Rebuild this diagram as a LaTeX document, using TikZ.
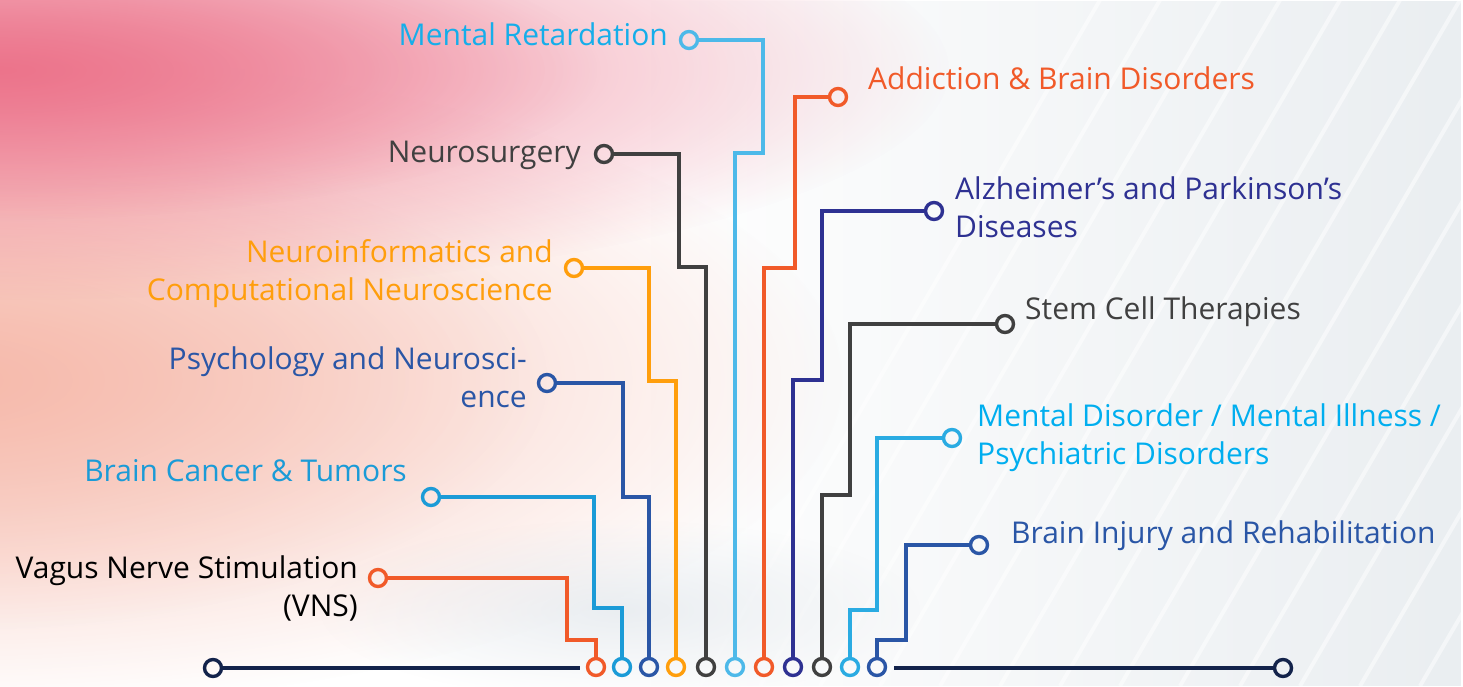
\documentclass[tikz,border=0pt]{standalone}
\usepackage{fontspec}
\setmainfont{Open Sans}
\usetikzlibrary{fadings}
\definecolor{navy}{HTML}{13234B}
\definecolor{cOr}{HTML}{F15A29}
\definecolor{cCa}{HTML}{1B9BD7}
\definecolor{cBl}{HTML}{2A56A6}
\definecolor{cAm}{HTML}{FF9E0C}
\definecolor{cGr}{HTML}{404040}
\definecolor{cLb}{HTML}{4DB9E9}
\definecolor{cLbT}{HTML}{15AEEA}
\definecolor{cIn}{HTML}{2E3192}
\definecolor{cCy}{HTML}{2AABE2}
\definecolor{cCyT}{HTML}{00AEEF}
\definecolor{pinkA}{HTML}{EC7088}
\definecolor{pinkB}{HTML}{F6B7A8}
\definecolor{greyB}{HTML}{DCE2E8}
\tikzfading[name=radfade, inner color=transparent!0, outer color=transparent!100]
\tikzfading[name=fadeL, left color=transparent!100, right color=transparent!0]
\tikzfading[name=fadeR, left color=transparent!0, right color=transparent!100]
\begin{document}
\begin{tikzpicture}[x=1pt,y=-1pt,
  dot/.style={circle, draw, line width=3.4pt, minimum size=17pt, inner sep=0pt},
  wire/.style={line width=3.5pt},
  lbl/.style={font=\fontsize{30}{38}\selectfont, inner sep=0pt},
  lblL/.style={lbl, anchor=base east, align=right},
  lblR/.style={lbl, anchor=base west, align=left}]
\useasboundingbox (0,0) rectangle (1463,686);
% background
\fill[white] (0,0) rectangle (1463,686);
\fill[greyB!60, path fading=fadeL] (650,0) rectangle (1463,686);
\begin{scope}
\clip (0,0) rectangle (1463,686);
\foreach \i in {0,...,16}{
  \draw[white, line width=4pt, opacity=0.5] (700+\i*60,686) -- (1100+\i*60,0);
}
\fill[pinkB, path fading=radfade, opacity=0.9] (-50,380) ellipse (900 and 330);
\fill[pinkB, path fading=radfade, opacity=0.6] (-50,380) ellipse (600 and 250);
\fill[pinkA, path fading=radfade, opacity=0.9] (0,70) ellipse (950 and 230);
\fill[pinkA, path fading=radfade, opacity=0.7] (0,70) ellipse (600 and 150);
\fill[greyB, path fading=radfade, opacity=0.6] (620,610) ellipse (300 and 90);
\end{scope}

% base line circles
\node[dot, draw=navy] (L) at (213,668) {};
\node[dot, draw=navy] (R) at (1283,668) {};
\coordinate (la) at (580,668);
\coordinate (ra) at (894,668);
\draw[navy, line width=3.3pt] (L.east) -- (la);
\draw[navy, line width=3.3pt] (ra) -- (R.west);

% bottom circles
\node[dot, draw=cOr] (b1) at (596,667) {};
\node[dot, draw=cCa] (b2) at (622,667) {};
\node[dot, draw=cBl] (b3) at (649,667) {};
\node[dot, draw=cAm] (b4) at (676,667) {};
\node[dot, draw=cGr] (b5) at (706,667) {};
\node[dot, draw=cLb] (b6) at (735,667) {};
\node[dot, draw=cOr] (b7) at (764,667) {};
\node[dot, draw=cIn] (b8) at (793,667) {};
\node[dot, draw=cGr] (b9) at (822,667) {};
\node[dot, draw=cCy] (b10) at (850,667) {};
\node[dot, draw=cBl] (b11) at (877,667) {};

% top circles
\node[dot, draw=cOr] (t1) at (378,578) {};
\node[dot, draw=cCa] (t2) at (431,497) {};
\node[dot, draw=cBl] (t3) at (547,383) {};
\node[dot, draw=cAm] (t4) at (574,268) {};
\node[dot, draw=cGr] (t5) at (604,154) {};
\node[dot, draw=cLb] (t6) at (689,40) {};
\node[dot, draw=cOr] (t7) at (838,97) {};
\node[dot, draw=cIn] (t8) at (934,211) {};
\node[dot, draw=cGr] (t9) at (1005,324) {};
\node[dot, draw=cCy] (t10) at (952,438) {};
\node[dot, draw=cBl] (t11) at (979,545) {};

% step corners
\coordinate (s1) at (567,640);
\coordinate (s2) at (594,608);
\coordinate (s3) at (623,497);
\coordinate (s4) at (649,381);
\coordinate (s5) at (679,267);
\coordinate (s6) at (763,153);
\coordinate (s7) at (795,268);
\coordinate (s8) at (822,380);
\coordinate (s9) at (850,495);
\coordinate (s10) at (877,610);
\coordinate (s11) at (906,640);

% connectors
\draw[wire, cOr] (b1.north) |- (s1) |- (t1.east);
\draw[wire, cCa] (b2.north) |- (s2) |- (t2.east);
\draw[wire, cBl] (b3.north) |- (s3) |- (t3.east);
\draw[wire, cAm] (b4.north) |- (s4) |- (t4.east);
\draw[wire, cGr] (b5.north) |- (s5) |- (t5.east);
\draw[wire, cLb] (b6.north) |- (s6) |- (t6.east);
\draw[wire, cOr] (b7.north) |- (s7) |- (t7.west);
\draw[wire, cIn] (b8.north) |- (s8) |- (t8.west);
\draw[wire, cGr] (b9.north) |- (s9) |- (t9.west);
\draw[wire, cCy] (b10.north) |- (s10) |- (t10.west);
\draw[wire, cBl] (b11.north) |- (s11) |- (t11.west);

% labels
\node[lblL, text=black] (l1) at (358,616) {Vagus Nerve Stimulation\\(VNS)};
\node[lblL, text=cCa] (l2) at (407,481) {Brain Cancer \& Tumors};
\node[lblL, text=cBl] (l3) at (527,407) {Psychology and Neurosci-\\ence};
\node[lblL, text=cAm] (l4) at (553,300) {Neuroinformatics and\\Computational Neuroscience};
\node[lblL, text=cGr] (l5) at (581,162) {Neurosurgery};
\node[lblL, text=cLbT] (l6) at (668,45) {Mental Retardation};
\node[lblR, text=cOr] (l7) at (868,89) {Addiction \& Brain Disorders};
\node[lblR, text=cIn] (l8) at (955,237) {Alzheimer’s and Parkinson’s\\Diseases};
\node[lblR, text=cGr] (l9) at (1025,319) {Stem Cell Therapies};
\node[lblR, text=cCyT] (l10) at (977,464) {Mental Disorder / Mental Illness /\\Psychiatric Disorders};
\node[lblR, text=cBl] (l11) at (1011,543) {Brain Injury and Rehabilitation};
\end{tikzpicture}
\end{document}
